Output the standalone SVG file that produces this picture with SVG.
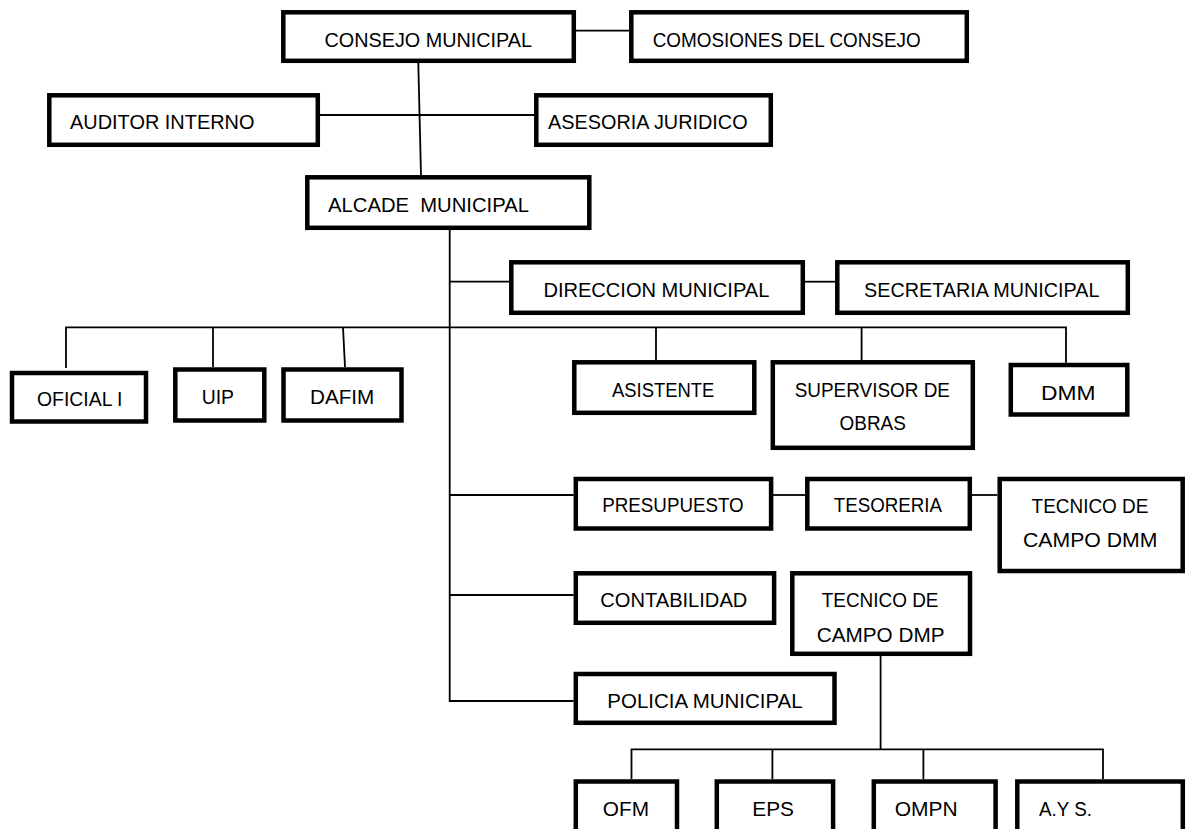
<svg xmlns="http://www.w3.org/2000/svg" width="1189" height="829" viewBox="0 0 1189 829">
<style>
.box{fill:#fff;stroke:#000;stroke-width:4.5}
.t{font-family:"Liberation Sans",Arial,sans-serif;font-size:20.5px;fill:#000}
.c{fill:none;stroke:#000;stroke-width:1.8}
</style>
<rect width="1189" height="829" fill="#fff"/>
<g id="connectors">
<path class="c" d="M576 30.7H629"/>
<path class="c" d="M418.3 63L421 175"/>
<path class="c" d="M320 115H534"/>
<path class="c" d="M449.7 230V701H573.6"/>
<path class="c" d="M449 281.7H509"/>
<path class="c" d="M805 281.7H835"/>
<path class="c" d="M66 368V327.3H1066V362.7"/>
<path class="c" d="M213 327.3V367"/>
<path class="c" d="M343 327.3L345 367"/>
<path class="c" d="M656 327.3V360"/>
<path class="c" d="M861.6 327.3V360"/>
<path class="c" d="M449 495H573.6"/>
<path class="c" d="M773 495H805"/>
<path class="c" d="M972 495H997.4"/>
<path class="c" d="M449 595H573.6"/>
<path class="c" d="M880.6 656V749.3"/>
<path class="c" d="M631.5 779V749.3H1103V779"/>
<path class="c" d="M772.4 749.3V779"/>
<path class="c" d="M923.4 749.3V779"/>
</g>
<g id="consejo"><rect class="box" x="283.3" y="12.3" width="290.5" height="48.5"/><text class="t" x="324.5" y="47" textLength="207.5" lengthAdjust="spacingAndGlyphs">CONSEJO MUNICIPAL</text></g>
<g id="comisiones"><rect class="box" x="631.3" y="12.3" width="335.5" height="48.5"/><text class="t" x="652.7" y="47" textLength="268" lengthAdjust="spacingAndGlyphs">COMOSIONES DEL CONSEJO</text></g>
<g id="auditor"><rect class="box" x="49.3" y="95.3" width="268.5" height="49.5"/><text class="t" x="70" y="129.3" textLength="184.5" lengthAdjust="spacingAndGlyphs">AUDITOR INTERNO</text></g>
<g id="asesoria"><rect class="box" x="536.3" y="95.3" width="234.5" height="49.5"/><text class="t" x="548" y="129" textLength="199.6" lengthAdjust="spacingAndGlyphs">ASESORIA JURIDICO</text></g>
<g id="alcade"><rect class="box" x="307.3" y="177.3" width="282" height="50.5"/><text class="t" x="328" y="212" textLength="201" lengthAdjust="spacingAndGlyphs" style="white-space:pre">ALCADE  MUNICIPAL</text></g>
<g id="direccion"><rect class="box" x="511.3" y="262.3" width="291.5" height="50.5"/><text class="t" x="543.4" y="296.7" textLength="226" lengthAdjust="spacingAndGlyphs">DIRECCION MUNICIPAL</text></g>
<g id="secretaria"><rect class="box" x="837.3" y="262.3" width="290.5" height="50.5"/><text class="t" x="864" y="297" textLength="235.5" lengthAdjust="spacingAndGlyphs">SECRETARIA MUNICIPAL</text></g>
<g id="oficial"><rect class="box" x="12" y="373" width="134" height="48.5"/><text class="t" x="37" y="406" textLength="85.5" lengthAdjust="spacingAndGlyphs">OFICIAL I</text></g>
<g id="uip"><rect class="box" x="175.3" y="369.5" width="89" height="51"/><text class="t" x="201.7" y="404" textLength="32.3" lengthAdjust="spacingAndGlyphs">UIP</text></g>
<g id="dafim"><rect class="box" x="283.5" y="369.5" width="118" height="51"/><text class="t" x="310" y="404" textLength="64.3" lengthAdjust="spacingAndGlyphs">DAFIM</text></g>
<g id="asistente"><rect class="box" x="574.3" y="362.3" width="180" height="50.5"/><text class="t" x="612" y="396.7" textLength="102.4" lengthAdjust="spacingAndGlyphs">ASISTENTE</text></g>
<g id="supervisor"><rect class="box" x="772.8" y="362.3" width="200" height="85.5"/><text class="t" x="794.7" y="397.3" textLength="155.3" lengthAdjust="spacingAndGlyphs">SUPERVISOR DE</text><text class="t" x="839.6" y="430" textLength="66.2" lengthAdjust="spacingAndGlyphs">OBRAS</text></g>
<g id="dmm"><rect class="box" x="1010.8" y="365" width="116.5" height="49.5"/><text class="t" x="1041" y="400" textLength="54.5" lengthAdjust="spacingAndGlyphs">DMM</text></g>
<g id="presupuesto"><rect class="box" x="575.8" y="479" width="195.3" height="49.5"/><text class="t" x="602.3" y="512.3" textLength="141.4" lengthAdjust="spacingAndGlyphs">PRESUPUESTO</text></g>
<g id="tesoreria"><rect class="box" x="807.3" y="479" width="162.5" height="49.5"/><text class="t" x="833.8" y="512" textLength="108.2" lengthAdjust="spacingAndGlyphs">TESORERIA</text></g>
<g id="tecnico-dmm"><rect class="box" x="999.7" y="479" width="183" height="92"/><text class="t" x="1031.6" y="513.3" textLength="116.8" lengthAdjust="spacingAndGlyphs">TECNICO DE</text><text class="t" x="1023" y="546.7" textLength="134.4" lengthAdjust="spacingAndGlyphs">CAMPO DMM</text></g>
<g id="contabilidad"><rect class="box" x="575.8" y="573.3" width="198.3" height="49.5"/><text class="t" x="600.3" y="606.7" textLength="147" lengthAdjust="spacingAndGlyphs">CONTABILIDAD</text></g>
<g id="tecnico-dmp"><rect class="box" x="792.3" y="573.3" width="177.7" height="80.5"/><text class="t" x="821.7" y="607.3" textLength="116.8" lengthAdjust="spacingAndGlyphs">TECNICO DE</text><text class="t" x="816.7" y="641.7" textLength="127.8" lengthAdjust="spacingAndGlyphs">CAMPO DMP</text></g>
<g id="policia"><rect class="box" x="575.8" y="674" width="258.7" height="48.8"/><text class="t" x="607.3" y="707.7" textLength="195.3" lengthAdjust="spacingAndGlyphs">POLICIA MUNICIPAL</text></g>
<g id="ofm"><rect class="box" x="575.8" y="781.5" width="101.2" height="70"/><text class="t" x="602.8" y="816" textLength="46.2" lengthAdjust="spacingAndGlyphs">OFM</text></g>
<g id="eps"><rect class="box" x="716.8" y="781.5" width="116.3" height="70"/><text class="t" x="752.3" y="816" textLength="41.7" lengthAdjust="spacingAndGlyphs">EPS</text></g>
<g id="ompn"><rect class="box" x="873.8" y="781.5" width="121.8" height="70"/><text class="t" x="894.7" y="816" textLength="62.9" lengthAdjust="spacingAndGlyphs">OMPN</text></g>
<g id="ays"><rect class="box" x="1017.3" y="781.5" width="165.5" height="70"/><text class="t" x="1039" y="816" textLength="53" lengthAdjust="spacingAndGlyphs">A.Y S.</text></g>
</svg>
